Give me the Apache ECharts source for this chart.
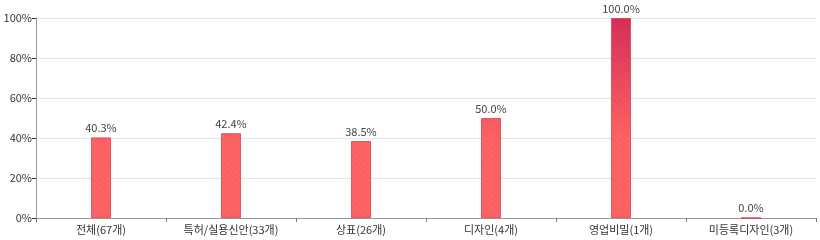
<!DOCTYPE html>
<html><head><meta charset="utf-8">
<script src="https://cdn.jsdelivr.net/npm/echarts@6/dist/echarts.min.js"></script>
<style>html,body{margin:0;padding:0;background:#fff}#c{width:820px;height:240px}</style>
</head><body><div id="c"></div>
<script>
const categories = ['전체(67개)', '특허/실용신안(33개)', '상표(26개)', '디자인(4개)', '영업비밀(1개)', '미등록디자인(3개)'];
const values = [40.3, 42.4, 38.5, 50.0, 100.0, 0.0];
const yTicks = [0, 20, 40, 60, 80, 100];

const chart = echarts.init(document.getElementById('c'), null, {renderer: 'canvas'});
const font = '"Noto Sans CJK KR", "Noto Sans", sans-serif';
chart.setOption({
  animation: false,
  grid: {left: 36, right: 4, top: 18, bottom: 22, containLabel: false},
  xAxis: {
    type: 'category', data: categories,
    axisLine: {lineStyle: {color: '#999', width: 1}},
    axisTick: {show: true, length: 4, lineStyle: {color: '#777'}},
    axisLabel: {color: '#333', fontSize: 11, fontFamily: font, margin: 6}
  },
  yAxis: {
    type: 'value', min: yTicks[0], max: yTicks[yTicks.length - 1], interval: 20,
    axisLine: {show: true, lineStyle: {color: '#999'}},
    axisTick: {show: true, length: 4, lineStyle: {color: '#333'}},
    axisLabel: {color: '#333', fontSize: 11, fontFamily: font, margin: 4, formatter: '{value}%'},
    splitLine: {lineStyle: {color: '#e4e4e4'}}
  },
  series: [{
    type: 'bar', data: values, barWidth: 20,
    itemStyle: {
      color: {type: 'linear', x: 0, y: 18, x2: 0, y2: 218, global: true,
        colorStops: [{offset: 0, color: '#d6305a'}, {offset: 0.6, color: '#ff6464'}, {offset: 1, color: '#ff6464'}]},
      borderColor: 'rgba(210,50,65,0.45)', borderWidth: 1,
      decal: {symbol: 'rect', symbolSize: 1, dashArrayX: [1, 0], dashArrayY: [1, 3], rotation: Math.PI / 4, color: 'rgba(120,0,20,0.07)'}
    },
    label: {show: true, position: 'top', distance: 4, color: '#444', fontSize: 11, fontFamily: font,
      formatter: p => p.value.toFixed(1) + '%'}
  }]
});
</script></body></html>
